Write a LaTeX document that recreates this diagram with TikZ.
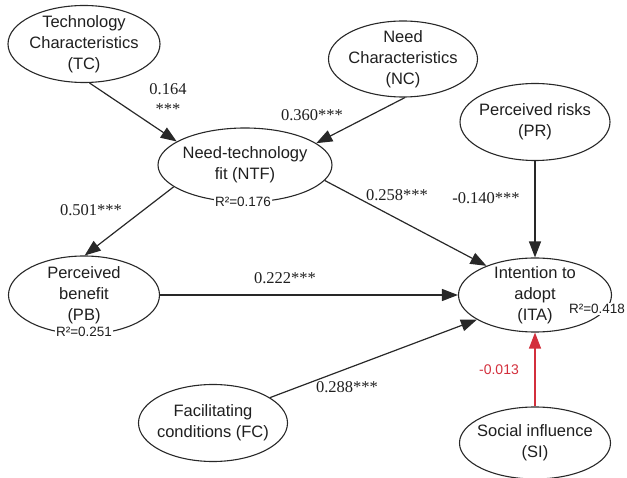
\documentclass[tikz,border=0pt]{standalone}
\usepackage{fontspec}
\setmainfont{Liberation Sans}
\newfontfamily\coeffont{Liberation Serif}
\usepackage{tikz}
\usetikzlibrary{arrows.meta,shapes.geometric}
\definecolor{insigred}{RGB}{211,47,60}
\definecolor{linegray}{RGB}{40,40,40}
\tikzstyle{construct}=[ellipse, draw=linegray, fill=white, line width=1.1pt, inner xsep=-5pt, inner ysep=-5pt, align=center, text=black!88, font=\fontsize{16.5}{21}\selectfont]
\tikzstyle{edge} = [draw=linegray, line width=1.2pt, -{Triangle[length=16pt,width=12pt]}]
\tikzstyle{weight} = [inner sep=1pt, align=center, text=black!88, font=\coeffont\fontsize{16.5}{20}\selectfont]
\tikzstyle{rsquare} = [inner sep=1pt, fill=white, text=black!88, font=\fontsize{13.5}{15}\selectfont]

\begin{document}
\begin{tikzpicture}[x=1pt,y=-1pt]
\useasboundingbox (0,0) rectangle (627,478);
% First we draw the constructs

\foreach \pos/\label/\name/\ew/\eh in {
	{(84,44)/TC/{Technology\\Characteristics\\(TC)}/152pt/77pt},
	{(403,59)/NC/{Need\\Characteristics\\(NC)}/149pt/76pt},
	{(245,165)/NTF/{Need-technology\\fit (NTF)}/174pt/74pt},
	{(535,122)/PR/{Perceived risks\\(PR)}/150pt/77pt},
	{(84,295)/PB/{Perceived\\benefit\\(PB)}/151pt/78pt},
	{(535,295)/ITA/{Intention to\\adopt\\(ITA)}/153pt/74pt},
	{(213,423)/FC/{Facilitating\\conditions (FC)}/149pt/77pt},
	{(535,443)/SI/{Social influence\\(SI)}/151pt/72pt}}
\node[construct, minimum width=\ew, minimum height=\eh] (\label) at \pos {\name};

% Connect constructs with paths and draw coefficients
\foreach \source/ \dest in {
	TC.-82/NTF.161,
	NC.-87/NTF.17,
	NTF.197/PB.89,
	NTF.-11/ITA.149,
	PR.south/ITA.north,
	PB.east/ITA.west,
	FC.24/ITA.203}
\path[edge] (\source) -- (\dest);
\path[edge, draw=insigred] (SI.north) -- (ITA.south);

\foreach \pos/\label/\val in {
	{(168,99)/wTC/{0.164\\***}},
	{(312,115)/wNC/{0.360***}},
	{(91,210)/wNTF/{0.501***}},
	{(397,195)/wFIT/{0.258***}},
	{(486,198)/wPR/{-0.140***}},
	{(285,278)/wPB/{0.222***}},
	{(347,387)/wFC/{0.288***}}}
\node[weight] (\label) at \pos {\val};
\node[weight, text=insigred, font=\fontsize{14}{16}\selectfont] (wSI) at (499,370) {-0.013};

% R squared of the endogenous constructs
\node[rsquare] (rNTF) at (243,202) {R²=0.176};
\node[rsquare] (rPB) at (84,332) {R²=0.251};
\node[rsquare] (rITA) at (597,309) {R²=0.418};

\end{tikzpicture}
\end{document}
